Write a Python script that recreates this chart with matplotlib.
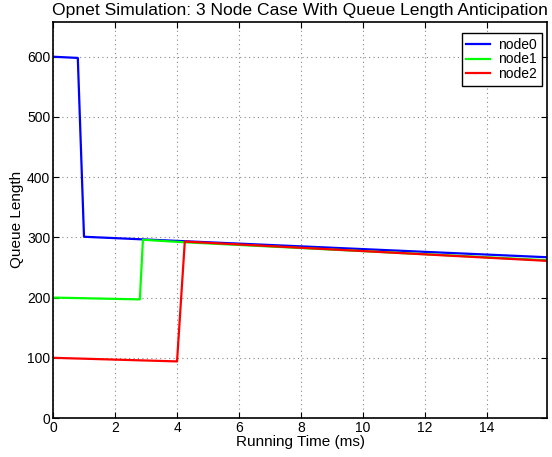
import matplotlib
matplotlib.use("Agg")
import matplotlib.pyplot as plt

plt.rcParams['font.family'] = ['Liberation Sans', 'DejaVu Sans']

# queue length traces
t0 = [0, 0.8, 1.0, 15.93]
q0 = [600, 598, 301, 267]
t1 = [0, 2.8, 2.9, 4.2, 15.93]
q1 = [200, 197, 296, 292, 262]
t2 = [0, 4.0, 4.25, 15.93]
q2 = [100, 94, 293, 261]

names = ['node0', 'node1', 'node2']
colors = ['#0000ff', '#00ff00', '#ff0000']

fig = plt.figure(figsize=(5.52, 4.57), dpi=100)
ax = fig.add_axes([0.096, 0.0853, 0.895, 0.867])

for t, q, c, n in zip([t0, t1, t2], [q0, q1, q2], colors, names):
    ax.plot(t, q, color=c, lw=1.6, label=n)

ax.set_xlim(0, 15.93)
ax.set_ylim(0, 658)
ax.set_xticks(range(0, 16, 2))
ax.set_yticks(range(0, 700, 100))
ax.grid(True, ls=(0, (1, 3)), color='#888888', lw=0.8)
ax.tick_params(direction='in', top=True, right=True, labelsize=10, length=4, pad=2)
for s in ax.spines.values():
    s.set_linewidth(1.2)

ax.set_title('Opnet Simulation: 3 Node Case With Queue Length Anticipation', fontsize=12.6, pad=5)
ax.set_xlabel('Running Time (ms)', fontsize=11, labelpad=0)
ax.set_ylabel('Queue Length', fontsize=11, labelpad=2)

leg = ax.legend(loc='upper right', bbox_to_anchor=(0.99, 0.972), borderaxespad=0,
                fontsize=10, fancybox=False, framealpha=1, edgecolor='black',
                handlelength=1.7, handletextpad=0.6, labelspacing=0.05, borderpad=0.35)
leg.get_frame().set_linewidth(1.0)

fig.savefig('out.png', dpi=100)
